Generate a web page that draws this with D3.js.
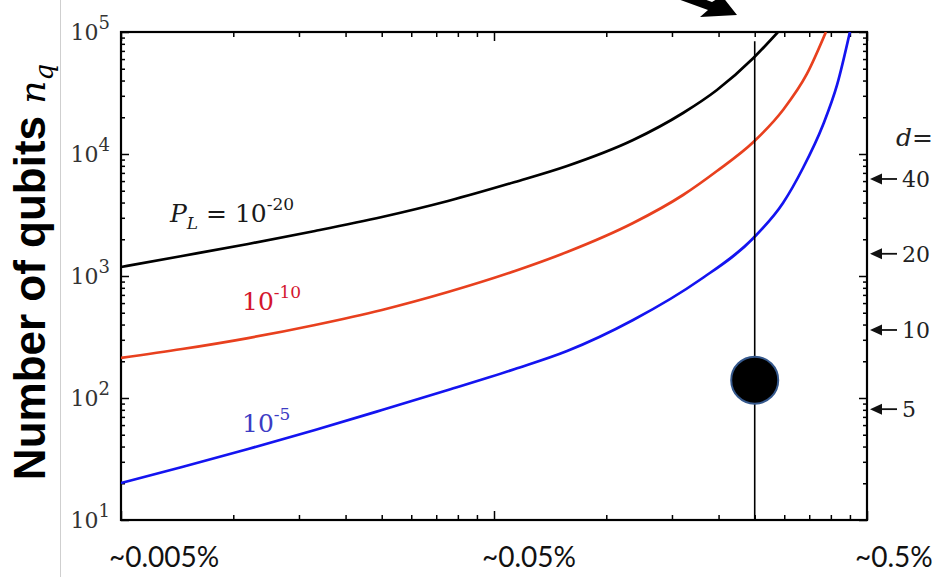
<!DOCTYPE html>
<html>
<head>
<meta charset="utf-8">
<script src="https://cdn.jsdelivr.net/npm/d3@7"></script>
<style>
  body { margin: 0; background: #fff; }
  svg { display: block; }
</style>
</head>
<body>
<svg id="chart" width="948" height="577"></svg>
<script>
// Physical error rate (%) and qubit count needed for each target logical error rate
const rateBlack   = [0.005, 0.00729, 0.01096, 0.01656, 0.02504, 0.03763, 0.0569, 0.0785, 0.118, 0.1606, 0.198, 0.248, 0.2886];
const qubitsBlack = [1185, 1458, 1830, 2338, 3045, 4119, 5895, 7972, 13020, 21680, 33470, 61220, 100000];

const rateRed   = [0.005, 0.00729, 0.01096, 0.01656, 0.02504, 0.03763, 0.0569, 0.0785, 0.118, 0.1606, 0.198, 0.248, 0.2977, 0.345, 0.388];
const qubitsRed = [213, 252, 310, 397, 527, 739, 1099, 1573, 2719, 4613, 7256, 12540, 22950, 45270, 100000];

const rateBlue   = [0.005, 0.00729, 0.01096, 0.01656, 0.02504, 0.03763, 0.0569, 0.0785, 0.118, 0.178, 0.248, 0.2977, 0.3368, 0.381, 0.4156, 0.450];
const qubitsBlue = [20.1, 27.2, 38.2, 54.7, 79.7, 116.3, 172.9, 242.8, 436, 927.5, 2049, 3967, 7677, 17290, 36780, 100000];

const seriesLabels = ["-20", "-10", "-5"];
const seriesColors = ["#000000", "#e8401e", "#1414f0"];
const labelColors  = ["#1a1a1a", "#d4162e", "#3c3cc4"];

// Axis ticks and labels
const xTickValues = [0.005, 0.05, 0.5];
const xTickLabels = ["~0.005%", "~0.05%", "~0.5%"];
const yTickValues = [10, 100, 1000, 10000, 100000];
const yTickExponents = ["1", "2", "3", "4", "5"];

// Code distance markers on the right: d and the matching qubit count
const distanceValues = [5, 10, 20, 40];
const distanceQubits = [81, 361, 1521, 6241];

// Highlighted operating point
const markerRate = 0.25;
const markerQubits = 140;
const markerLineTop = 84000;

const svg = d3.select("#chart");
const plotL = 121, plotR = 867, plotT = 32, plotB = 520;

const x = d3.scaleLog().domain([0.005, 0.5]).range([plotL, plotR]);
const y = d3.scaleLog().domain([10, 100000]).range([plotB, plotT]);

// faint page edge on the left
svg.append("line")
  .attr("x1", 60.5).attr("x2", 60.5).attr("y1", 0).attr("y2", 577)
  .attr("stroke", "#cfcfcf").attr("stroke-width", 1);

// clip for curves
svg.append("defs").append("clipPath").attr("id", "plotClip")
  .append("rect").attr("x", plotL).attr("y", plotT).attr("width", plotR - plotL).attr("height", plotB - plotT);

// ticks
const xMinor = d3.range(2, 10).map(k => k * 0.005).concat(d3.range(2, 10).map(k => k * 0.05));
const yAll = y.ticks();
const yMinor = yAll.filter(v => !yTickValues.includes(v));

function tickLayer(axis, transform) {
  const g = svg.append("g").attr("transform", transform).call(axis);
  g.select(".domain").remove();
  g.selectAll(".tick line").attr("stroke", "#000").attr("stroke-width", 1.5);
  g.selectAll(".tick text").remove();
  return g;
}
tickLayer(d3.axisBottom(x).tickValues(xMinor).tickSize(-5).tickFormat(""), `translate(0,${plotB})`);
tickLayer(d3.axisBottom(x).tickValues(xTickValues).tickSize(-9).tickFormat(""), `translate(0,${plotB})`);
tickLayer(d3.axisTop(x).tickValues(xMinor).tickSize(-5).tickFormat(""), `translate(0,${plotT})`);
tickLayer(d3.axisTop(x).tickValues(xTickValues).tickSize(-9).tickFormat(""), `translate(0,${plotT})`);
tickLayer(d3.axisLeft(y).tickValues(yMinor).tickSize(-4).tickFormat(""), `translate(${plotL},0)`);
tickLayer(d3.axisLeft(y).tickValues(yTickValues).tickSize(-8).tickFormat(""), `translate(${plotL},0)`);
tickLayer(d3.axisRight(y).tickValues(yMinor).tickSize(-4).tickFormat(""), `translate(${plotR},0)`);
tickLayer(d3.axisRight(y).tickValues(yTickValues).tickSize(-8).tickFormat(""), `translate(${plotR},0)`);

// frame
svg.append("rect")
  .attr("x", plotL).attr("y", plotT).attr("width", plotR - plotL).attr("height", plotB - plotT)
  .attr("fill", "none").attr("stroke", "#000").attr("stroke-width", 2.2);

// y tick labels 10^k
const yLab = svg.append("g").attr("font-family", "DejaVu Serif").attr("fill", "#333");
yTickValues.forEach((v, i) => {
  const t = yLab.append("text").attr("x", 110).attr("y", y(v) + 8)
    .attr("text-anchor", "end").attr("font-size", 22);
  t.append("tspan").text("10");
  t.append("tspan").attr("dy", -11).attr("font-size", 18).text(yTickExponents[i]);
});

// x labels
const xLab = svg.append("g").attr("font-family", "Lato, 'Open Sans', sans-serif").attr("fill", "#111");
xTickValues.forEach((v, i) => {
  xLab.append("text").attr("x", x(v) - 12).attr("y", 567)
    .attr("font-size", 28).text(xTickLabels[i]);
});

// y axis title
const title = svg.append("text")
  .attr("transform", "translate(45,272) rotate(-90)")
  .attr("text-anchor", "middle").attr("fill", "#000");
title.append("tspan").attr("font-family", "Liberation Sans, Arial, sans-serif")
  .attr("font-weight", "bold").attr("font-size", 44).text("Number of qubits ");
title.append("tspan").attr("font-family", "DejaVu Serif").attr("font-style", "italic")
  .attr("font-size", 36).text("n");
title.append("tspan").attr("font-family", "DejaVu Serif").attr("font-style", "italic")
  .attr("font-size", 26).attr("dy", 8).text("q");

// curves
const line = d3.line().x(d => x(d[0])).y(d => y(d[1])).curve(d3.curveMonotoneX);
const series = [
  d3.zip(rateBlack, qubitsBlack),
  d3.zip(rateRed, qubitsRed),
  d3.zip(rateBlue, qubitsBlue)
];
const curves = svg.append("g").attr("clip-path", "url(#plotClip)");
series.forEach((s, i) => {
  curves.append("path").attr("d", line(s)).attr("fill", "none")
    .attr("stroke", seriesColors[i]).attr("stroke-width", 2.7).attr("stroke-linejoin", "round");
});

// series labels
const lab = svg.append("g").attr("font-family", "DejaVu Serif").attr("font-size", 25);
const l0 = lab.append("text").attr("x", 170).attr("y", 222).attr("fill", labelColors[0]);
l0.append("tspan").attr("font-style", "italic").text("P");
l0.append("tspan").attr("font-style", "italic").attr("font-size", 17).attr("dy", 7).text("L");
l0.append("tspan").attr("dy", -7).text(" = 10");
l0.append("tspan").attr("dy", -12).attr("font-size", 17).text(seriesLabels[0]);

const l1 = lab.append("text").attr("x", 242).attr("y", 310).attr("fill", labelColors[1]);
l1.append("tspan").text("10");
l1.append("tspan").attr("dy", -12).attr("font-size", 17).text(seriesLabels[1]);

const l2 = lab.append("text").attr("x", 242).attr("y", 432).attr("fill", labelColors[2]);
l2.append("tspan").text("10");
l2.append("tspan").attr("dy", -12).attr("font-size", 17).text(seriesLabels[2]);

// operating point
svg.append("line")
  .attr("x1", x(markerRate)).attr("x2", x(markerRate))
  .attr("y1", y(markerLineTop)).attr("y2", y(10))
  .attr("stroke", "#000").attr("stroke-width", 1.6);
svg.append("circle")
  .attr("cx", x(markerRate)).attr("cy", y(markerQubits)).attr("r", 23.5)
  .attr("fill", "#000").attr("stroke", "#35588c").attr("stroke-width", 2);

// code distance markers
const dg = svg.append("g").attr("font-family", "DejaVu Serif").attr("fill", "#222");
dg.append("text").attr("x", 896).attr("y", 146).attr("font-size", 25)
  .call(t => { t.append("tspan").attr("font-style", "italic").text("d"); t.append("tspan").text("="); });
distanceQubits.forEach((q, i) => {
  const yy = y(q);
  dg.append("path").attr("d", `M870,${yy}L882,${yy - 5.5}L882,${yy + 5.5}Z`).attr("fill", "#111");
  dg.append("line").attr("x1", 880).attr("x2", 897).attr("y1", yy).attr("y2", yy)
    .attr("stroke", "#111").attr("stroke-width", 1.8);
  dg.append("text").attr("x", 902).attr("y", yy + 8).attr("font-size", 22).text(distanceValues[i]);
});

// pointer arrow at the top edge
svg.append("path")
  .attr("d", "M664,-6 L668,-14 L712,2 L722,-4 L737,15 L700,17 L708,10 Z")
  .attr("fill", "#000");
</script>
</body>
</html>
